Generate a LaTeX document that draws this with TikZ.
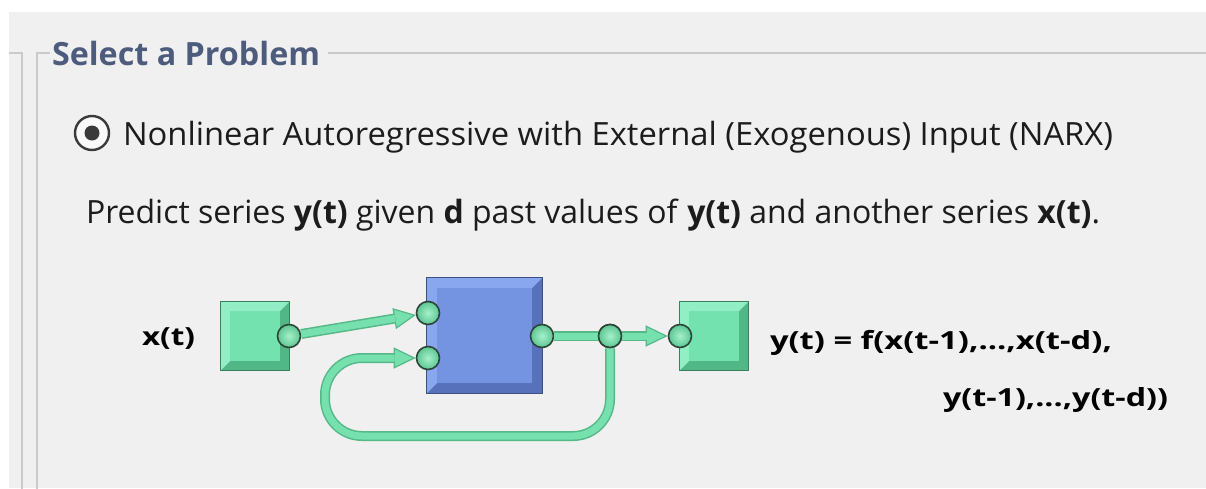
\documentclass[tikz,border=0pt]{standalone}
\usepackage{fontspec}
\setmainfont{Open Sans}
\usepackage{graphicx}
\usetikzlibrary{arrows.meta}
\definecolor{panel}{HTML}{F0F0F0}
\definecolor{frame}{HTML}{CACACA}
\definecolor{titlecol}{HTML}{4D5C7C}
\definecolor{textcol}{HTML}{1C1C1C}
\definecolor{gMain}{HTML}{73E2AF}
\definecolor{gLight}{HTML}{92EEC4}
\definecolor{gDark}{HTML}{52B787}
\definecolor{bMain}{HTML}{7494E2}
\definecolor{bLight}{HTML}{89A7EF}
\definecolor{bDark}{HTML}{5871BB}
\definecolor{wireL}{HTML}{76E0AF}
\definecolor{wireD}{HTML}{55B887}
\definecolor{portD}{HTML}{2C4538}
\definecolor{portIn}{HTML}{A6F0CB}
\definecolor{portOut}{HTML}{5CC691}
\definecolor{radring}{HTML}{3A3A3A}
\newcommand\fitw[2]{\resizebox{#1}{\height}{#2}}
\newcommand\bevelbox[5]{%
  \fill[#4] (#1.north west) rectangle (#1.south east);
  \fill[#3] (#1.north west) -- (#1.north east) -- ([shift={(-#2,#2)}]#1.north east)
     -- ([shift={(#2,-#2)}]#1.south west) -- (#1.south west) -- cycle;
  \fill[#5] ([shift={(#2,#2)}]#1.north west) rectangle ([shift={(-#2,-#2)}]#1.south east);
  \draw[#4!70!black, line width=0.8pt] (#1.north west) rectangle (#1.south east);}
\tikzset{
  txt/.style={inner sep=0pt, outer sep=0pt, text=textcol},
  bodyfont/.style={font=\fontsize{32}{38}\selectfont},
  diafont/.style={font=\fontsize{25}{30}\selectfont\bfseries, text=black},
  gsq/.style={rectangle, minimum size=68pt, inner sep=0pt},
  bsq/.style={rectangle, minimum size=115pt, inner sep=0pt},
  port/.style={circle, minimum size=23pt, inner sep=0pt, draw=portD, line width=1.6pt,
    inner color=portIn, outer color=portOut},
  wire/.style={draw=wireD, line width=10pt, line cap=butt,
    postaction={draw=wireL, line width=7pt}},
  tipline/.style={draw=wireD, line width=1.2pt,
    -{Triangle[length=22pt,width=21pt,fill=wireL,line width=1.2pt]}},
  frameline/.style={draw=frame, line width=2.2pt}
}
\begin{document}
\begin{tikzpicture}[x=1pt,y=-1pt]
\useasboundingbox (0,0) rectangle (1206,488);
\fill[white] (0,0) rectangle (1206,488);
\fill[panel] (9,12) rectangle (1206,488);
% frames
\draw[frameline] (9,53) -- (22,53) -- (22,490);
\draw[frameline] (50,53) -- (37,53) -- (37,490);
\draw[frameline] (328,53) -- (1208,53);
% title
\node[txt, anchor=base west, text=titlecol, font=\fontsize{32}{38}\selectfont\bfseries] (title) at (52,65) {\fitw{268pt}{Select a Problem}};
% radio
\node[circle, minimum size=34pt, inner sep=0pt, draw=radring, line width=2.4pt, fill=white!60!panel] (radio) at (92,133) {};
\node[circle, minimum size=15pt, inner sep=0pt, fill=radring] (dot) at (radio.center) {};
\node[txt, anchor=base west, bodyfont] (opt) at (123,145) {\fitw{990pt}{Nonlinear Autoregressive with External (Exogenous) Input (NARX)}};
\node[txt, anchor=base west, bodyfont] (desc) at (86,223) {\fitw{1014pt}{Predict series \textbf{y(t)} given \textbf{d} past values of \textbf{y(t)} and another series \textbf{x(t)}.}};
% diagram boxes
\node[gsq] (xsq) at (255,336) {};
\node[bsq] (nn) at (484.5,335.5) {};
\node[gsq] (ysq) at (714,336) {};
\bevelbox{xsq}{9}{gLight}{gDark}{gMain}
\bevelbox{nn}{10}{bLight}{bDark}{bMain}
\bevelbox{ysq}{9}{gLight}{gDark}{gMain}
% ports
\node[port] (xo) at (289,336) {};
\node[port] (i1) at (428,313) {};
\node[port] (i2) at (428,358) {};
\node[port] (no) at (542,336) {};
\node[port] (jn) at (610,336) {};
\node[port] (yi) at (680,336) {};
\coordinate (c1) at (610,436);
\coordinate (c2) at (325,436);
\coordinate (c3) at (325,358);
\coordinate (c4) at (375,358);
% connectors
\draw[tipline] (xo) -- (i1);
\draw[wire, shorten >=21pt] (xo) -- (i1);
\draw[wire] (no) -- (jn);
\draw[tipline] (jn) -- (yi);
\draw[wire, shorten >=21pt] (jn) -- (yi);
\draw[tipline] (c4) -- (i2);
\draw[wire, shorten >=21pt, rounded corners=37pt] (jn.south) -- (c1) -- (c2) -- (c3) -- (i2.west);
% redraw junction port on top of wire start
\node[port] at (jn.center) {};
% labels
\node[txt, diafont, anchor=base west] (xl) at (142,345) {\fitw{53pt}{x(t)}};
\node[txt, diafont, anchor=base west] (eq1) at (770,349) {\fitw{342pt}{y(t) = f(x(t-1),...,x(t-d),}};
\node[txt, diafont, anchor=base west] (eq2) at (943,406) {\fitw{225pt}{y(t-1),...,y(t-d))}};
\end{tikzpicture}
\end{document}
